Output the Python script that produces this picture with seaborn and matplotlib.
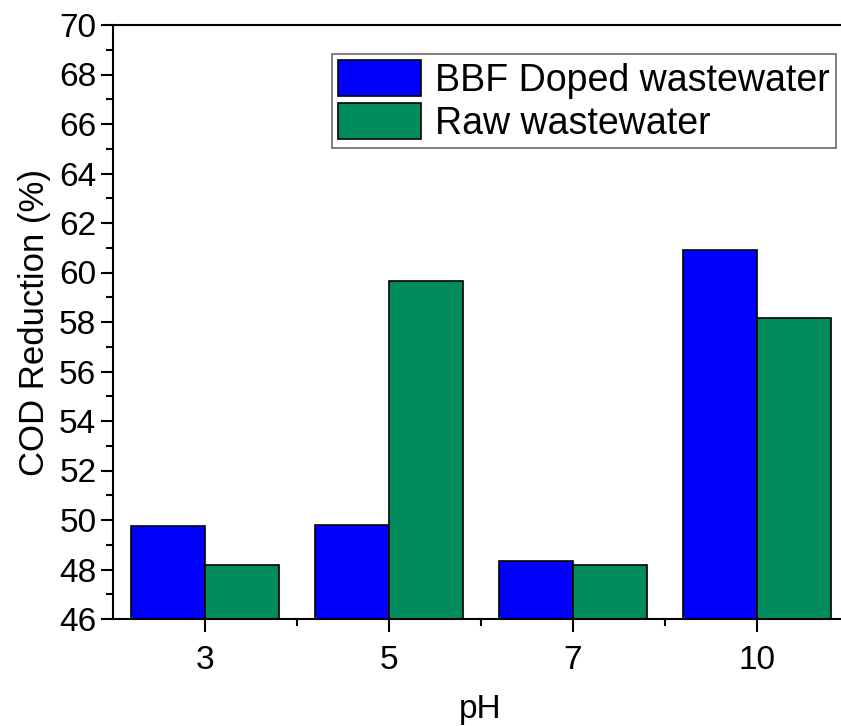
import matplotlib
matplotlib.use("Agg")
import matplotlib.pyplot as plt
import seaborn as sns
import pandas as pd
from matplotlib.ticker import MultipleLocator, FixedLocator

ph_labels = ["3", "5", "7", "10"]
bbf_doped = [49.75, 49.8, 48.34, 60.91]
raw = [48.17, 59.67, 48.17, 58.15]
series_names = ["BBF Doped wastewater", "Raw wastewater"]
colors = ["#0000FF", "#008C5F"]

df = pd.DataFrame({
    "pH": ph_labels * 2,
    "value": bbf_doped + raw,
    "series": [series_names[0]] * 4 + [series_names[1]] * 4,
})

sns.set_style("ticks")
plt.rcParams["font.family"] = ["Liberation Sans", "DejaVu Sans"]
plt.rcParams["text.color"] = "black"
plt.rcParams["axes.labelcolor"] = "black"
plt.rcParams["xtick.color"] = "black"
plt.rcParams["ytick.color"] = "black"

fig = plt.figure(figsize=(8.41, 7.26), dpi=100)
ax = fig.add_axes([113 / 841, 107 / 726, 736 / 841, 594 / 726])

sns.barplot(data=df, x="pH", y="value", hue="series", palette=colors,
            width=0.8, gap=0, edgecolor="black", linewidth=1.2,
            saturation=1, ax=ax, errorbar=None)

ax.set_xlim(-0.5, 3.5)
ax.set_ylim(46, 70)
ax.yaxis.set_major_locator(MultipleLocator(2))
ax.yaxis.set_minor_locator(MultipleLocator(1))
ax.xaxis.set_minor_locator(FixedLocator([0.5, 1.5, 2.5]))

ax.tick_params(axis="both", which="major", direction="out", length=9, width=1.5,
               labelsize=24, colors="black")
ax.tick_params(axis="both", which="minor", direction="out", length=5, width=1.5,
               color="black")
ax.tick_params(axis="x", which="major", pad=10)
ax.tick_params(axis="y", which="major", pad=3)

for side in ["left", "bottom", "top", "right"]:
    ax.spines[side].set_visible(True)
    ax.spines[side].set_linewidth(1.5)
    ax.spines[side].set_color("black")

ax.set_xlabel("pH", fontsize=24, color="black", va="baseline")
ax.xaxis.set_label_coords((480 - 113) / 736, (8 - 107) / 594)
ax.set_ylabel("COD Reduction (%)", fontsize=25, labelpad=6, color="black")

leg = ax.legend(loc="upper left", bbox_to_anchor=(332 / 841, 1 - 54 / 726),
                bbox_transform=fig.transFigure, fontsize=27, frameon=True,
                fancybox=False, edgecolor="#444444", handlelength=2.2,
                handleheight=1.1, labelspacing=0.1, handletextpad=0.38,
                borderpad=0.17, borderaxespad=0)
leg.get_frame().set_linewidth(1.2)
for t in leg.get_texts():
    t.set_color("black")
for h in leg.legend_handles:
    h.set_edgecolor("black")
    h.set_linewidth(1.2)

fig.savefig("out.png", dpi=100)
